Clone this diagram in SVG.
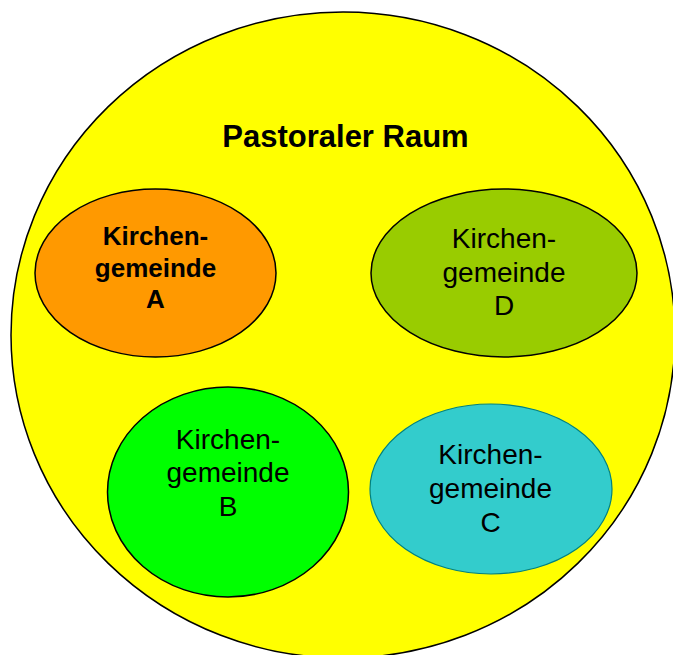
<svg xmlns="http://www.w3.org/2000/svg" width="673" height="655" viewBox="0 0 673 655">
<style>
  .lbl { font-family: "Liberation Sans", Arial, sans-serif; font-size: 28px; fill: #000; text-anchor: middle; }
  .bold { font-weight: bold; font-size: 26px; }
  .title { font-family: "Liberation Sans", Arial, sans-serif; font-size: 31px; font-weight: bold; fill: #000; text-anchor: middle; }
  .outline { stroke: #000; stroke-width: 1.5; }
</style>
<rect width="673" height="655" fill="#ffffff"/>
<g id="pastoraler-raum">
  <ellipse class="outline" cx="343" cy="335" rx="332" ry="323" fill="#FFFF00"/>
  <text class="title" x="345.5" y="147">Pastoraler Raum</text>
</g>
<g id="kg-a">
  <ellipse class="outline" cx="155.5" cy="273" rx="120.5" ry="84" fill="#FF9900"/>
  <text class="lbl bold" x="155.5" y="245">Kirchen-</text>
  <text class="lbl bold" x="155.5" y="277">gemeinde</text>
  <text class="lbl bold" x="155.5" y="308">A</text>
</g>
<g id="kg-d">
  <ellipse class="outline" cx="504" cy="273" rx="133" ry="84" fill="#99CC00"/>
  <text class="lbl" x="504" y="248">Kirchen-</text>
  <text class="lbl" x="504" y="282">gemeinde</text>
  <text class="lbl" x="504" y="315">D</text>
</g>
<g id="kg-b">
  <ellipse class="outline" cx="228" cy="492" rx="120.5" ry="105" fill="#00FF00"/>
  <text class="lbl" x="228" y="449">Kirchen-</text>
  <text class="lbl" x="228" y="482">gemeinde</text>
  <text class="lbl" x="228" y="516">B</text>
</g>
<g id="kg-c">
  <ellipse cx="491" cy="489" rx="121" ry="85" fill="#33CCCC" stroke="#008080" stroke-width="1.2"/>
  <text class="lbl" x="490.5" y="464">Kirchen-</text>
  <text class="lbl" x="490.5" y="498">gemeinde</text>
  <text class="lbl" x="490.5" y="532">C</text>
</g>
<g id="connectors"></g>
</svg>
